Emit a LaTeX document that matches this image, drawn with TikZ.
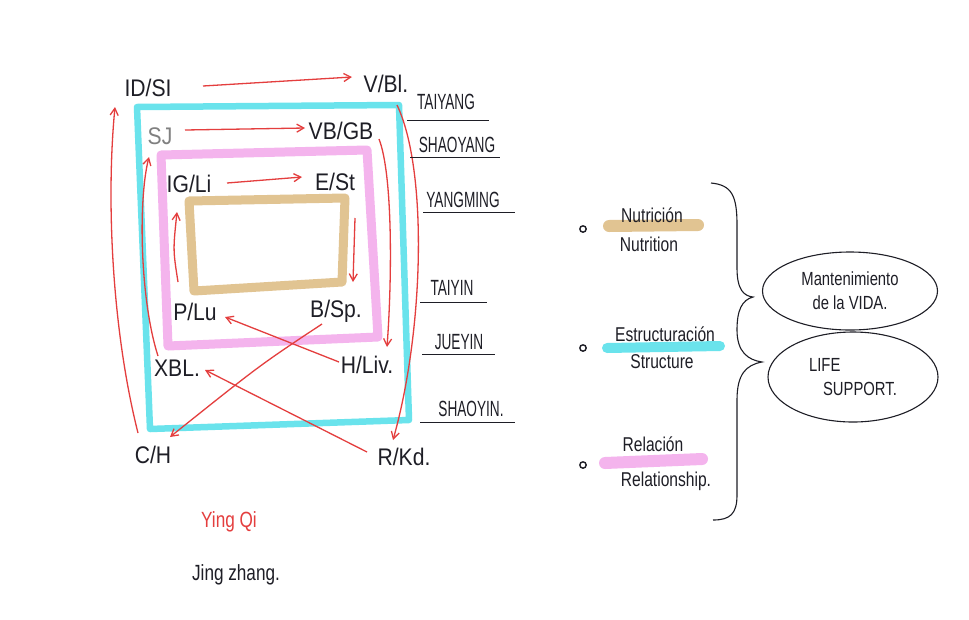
\documentclass[tikz,border=0pt]{standalone}
\usepackage{fontspec}
\setmainfont{Liberation Sans}
\newfontfamily\narrowfont[FakeStretch=0.78]{Liberation Sans}
\newfontfamily\lblfont[FakeStretch=0.88]{Liberation Sans}
\newfontfamily\merfont[FakeStretch=0.62]{Liberation Sans}
\usetikzlibrary{shapes.geometric,arrows.meta,calc}
\definecolor{inkred}{RGB}{228,62,62}
\definecolor{hlcyan}{RGB}{90,225,235}
\definecolor{hlpink}{RGB}{243,172,236}
\definecolor{hltan}{RGB}{222,190,135}
\definecolor{ink}{RGB}{30,30,38}
\begin{document}
\begin{tikzpicture}[x=1pt,y=-1pt,
  lbl/.style={font=\lblfont\fontsize{24}{26}\selectfont, text=ink, inner sep=1pt},
  mer/.style={font=\merfont\fontsize{22}{24}\selectfont, text=ink, inner sep=1pt},
  rlbl/.style={font=\narrowfont\fontsize{20}{22}\selectfont, text=ink, inner sep=1pt, align=center},
  rarr/.style={draw=inkred, line width=1.3pt, -{Straight Barb[length=7pt,width=8pt]}},
  hl/.style={line width=7pt, line join=round, line cap=round, opacity=0.9},
  uline/.style={draw=ink, line width=1pt},
  bub/.style={draw=ink, line width=1.1pt, ellipse, inner sep=0pt, font=\narrowfont\fontsize{19}{24}\selectfont, text=ink}]
\useasboundingbox (0,0) rectangle (969,619);
\fill[white] (0,0) rectangle (969,619);

% highlight frames
\draw[hl, hlcyan, line width=6.5pt] (137,107) -- (399,105) -- (409,420) -- (150,429) -- cycle;
\draw[hl, hlpink, line width=9pt] (161,155) -- (367,150) -- (378,337) -- (168,346) -- cycle;
\draw[hl, hltan, line width=9pt] (189,201) -- (345,198) -- (342,282) -- (194,291) -- cycle;

% organ labels
\node[lbl] (idsi) at (148,88) {ID/SI};
\node[lbl] (vbl) at (386,84) {V/Bl.};
\node[lbl, text=gray] (sj) at (160,136) {SJ};
\node[lbl] (vbgb) at (341,131) {VB/GB};
\node[lbl] (igli) at (189,184) {IG/Li};
\node[lbl] (est) at (335,182) {E/St};
\node[lbl] (plu) at (195,312) {P/Lu};
\node[lbl] (bsp) at (336,311) {B/Sp.};
\node[lbl] (xbl) at (177,368) {XBL.};
\node[lbl] (hliv) at (367,365) {H/Liv.};
\node[lbl] (ch) at (153,455) {C/H};
\node[lbl] (rkd) at (404,457) {R/Kd.};

% arrows
\draw[rarr] ($(idsi)+(55,-2)$) -- ($(vbl)+(-34,-7)$);
\draw[rarr] ($(sj)+(25,-6)$) -- ($(vbgb)+(-36,-3)$);
\draw[rarr] ($(igli)+(38,-1)$) -- ($(est)+(-33,-5)$);
\draw[rarr] ($(vbl)+(11,21)$) .. controls (428,170) and (424,330) .. ($(rkd)+(-11,-17)$);
\draw[rarr] ($(vbgb)+(38,8)$) .. controls (393,175) and (392,280) .. ($(hliv)+(20,-18)$);
\draw[rarr] ($(est)+(20,36)$) -- ($(bsp)+(17,-29)$);
\draw[rarr] ($(plu)+(-17,-30)$) .. controls (173,250) .. ($(igli)+(-12,28)$);
\draw[rarr] ($(xbl)+(-19,-12)$) .. controls (140,300) and (138,200) .. ($(sj)+(-11,21)$);
\draw[rarr] ($(ch)+(-15,-22)$) .. controls (112,330) and (106,200) .. ($(idsi)+(-33,19)$);
\draw[rarr] ($(bsp)+(-14,13)$) .. controls (260,365) .. ($(ch)+(17,-18)$);
\draw[rarr] ($(hliv)+(-28,-3)$) -- ($(plu)+(30,5)$);
\draw[rarr] ($(rkd)+(-37,-5)$) -- ($(xbl)+(28,2)$);

% meridian names
\node[mer] (taiyang) at (446,102) {TAIYANG};
\draw[uline] (407,120) -- (489,120);
\node[mer] (shaoyang) at (457,145) {SHAOYANG};
\draw[uline] (410,157) -- (500,157);
\node[mer] (yangming) at (463,200) {YANGMING};
\draw[uline] (423,212) -- (515,212);
\node[mer] (taiyin) at (452,288) {TAIYIN};
\draw[uline] (420,302) -- (487,302);
\node[mer] (jueyin) at (459,342) {JUEYIN};
\draw[uline] (422,354) -- (495,354);
\node[mer] (shaoyin) at (471,409) {SHAOYIN.};
\draw[uline] (420,422) -- (515,422);

% bottom notes
\node[lbl, text=inkred, font=\narrowfont\fontsize{22}{24}\selectfont] (yingqi) at (229,522) {Ying Qi};
\node[lbl, font=\narrowfont\fontsize{22}{24}\selectfont] (jing) at (236,575) {Jing zhang.};

% right: three functions
\draw[hl, hltan, line width=12pt] (609,226) -- (698,225);
\draw[hl, hlcyan, line width=10pt] (607,348) -- (720,346);
\draw[hl, hlpink, line width=12pt] (605,463) -- (702,459);
\foreach \yy in {229,348,465} \draw[ink, line width=1.4pt] (583,\yy) circle (3.2);
\node[rlbl] (nutes) at (652,215) {Nutrición};
\node[rlbl] (nuten) at (649,244) {Nutrition};
\node[rlbl] (estes) at (665,334) {Estructuración};
\node[rlbl] (esten) at (662,362) {Structure};
\node[rlbl] (reles) at (653,444) {Relación};
\node[rlbl] (relen) at (666,481) {Relationship.};

% brace
\draw[ink, line width=1.1pt] (711,183) .. controls (732,185) and (737,196) .. (737,225) -- (737,268)
  .. controls (737,290) and (744,296) .. (753,297)
  .. controls (742,300) and (737,310) .. (737,330)
  .. controls (737,352) and (748,360) .. (762,362)
  .. controls (746,365) and (737,374) .. (737,400) -- (737,495)
  .. controls (737,514) and (730,520) .. (713,520);

% ellipses
\node[bub, minimum width=175pt, minimum height=78pt, align=center] (mant) at (850,291) {Mantenimiento\\de la VIDA.};
\node[bub, minimum width=170pt, minimum height=90pt, align=left] (life) at (853,377) {LIFE\\\hspace{14pt}SUPPORT.};
\end{tikzpicture}
\end{document}
